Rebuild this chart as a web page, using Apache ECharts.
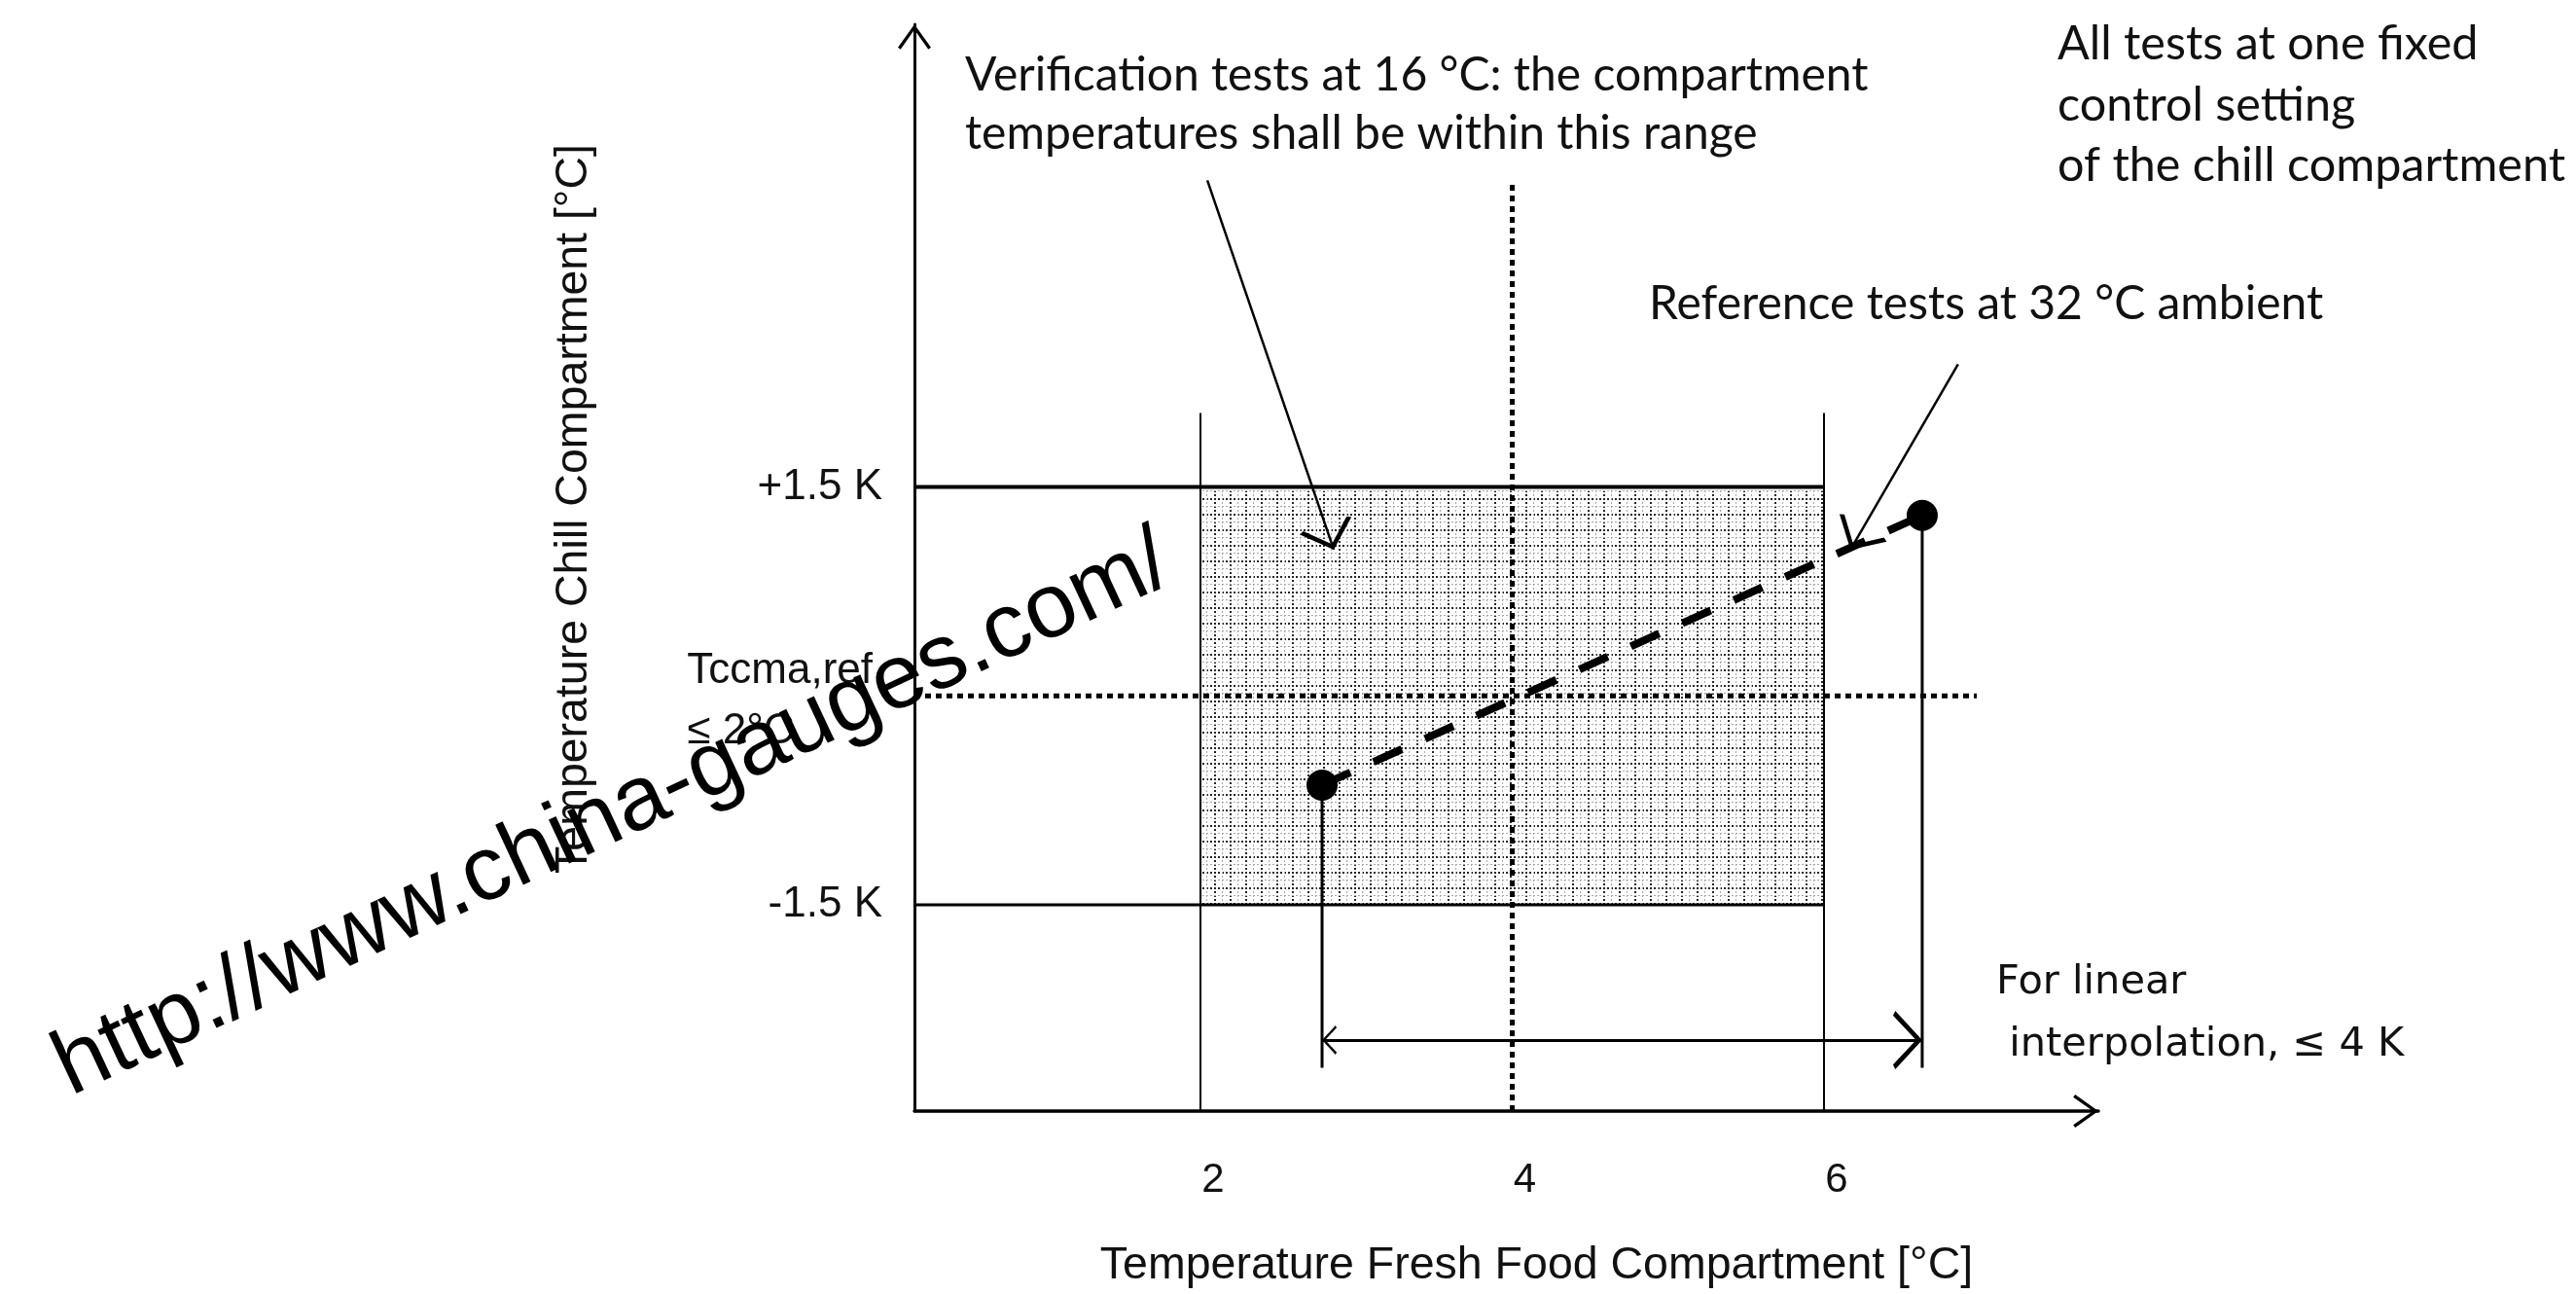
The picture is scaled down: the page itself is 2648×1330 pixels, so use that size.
<!DOCTYPE html>
<html>
<head>
<meta charset="utf-8">
<script src="https://cdn.jsdelivr.net/npm/echarts@6/dist/echarts.min.js"></script>
<style>
html, body { margin: 0; padding: 0; background: #fff; }
#chart { width: 2648px; height: 1330px; }
</style>
</head>
<body>
<div id="chart"></div>
<script>
// axes: fresh food temperature [°C] / chill temperature relative to Tccma,ref [K]
const xRange = [0.165, 7.76];
const yRange = [-2.98, 4.82];
const xTickValues = [2, 4, 6];
const yTickValues = [-1.5, 0, 1.5];
const yTickLabels = ['-1.5 K', 'Tccma,ref\n≤ 2°C', '+1.5 K'];

// tolerance band of the verification tests
const bandX = [2, 6];
const bandY = [-1.5, 1.5];
const bandTop = 2.03;

// test points: verification (16 °C) and reference (32 °C)
const pointX = [2.78, 6.63];
const pointY = [-0.64, 1.295];
const dropBottom = -2.67;
const spanY = -2.47;

// target cross
const targetX = 4;
const targetY = 0;
const crossTop = 3.68;
const crossRight = 6.98;

// callout leader arrows [from, to]
const verifArrow = [[2.044, 3.70], [2.855, 1.05]];
const refArrow = [[6.86, 2.38], [6.17, 1.05]];

const CHEVRON = 'path://M50,-76L50,-76ZM50,0L100,70L92,76L50,16L8,76L0,70Z';
const AXIS_FONT = 'Liberation Sans';
const NOTE_FONT = 'Lato';

function gridTile() {
  const c = document.createElement('canvas');
  c.width = 16; c.height = 16;
  const g = c.getContext('2d');
  g.fillStyle = '#fff';
  g.fillRect(0, 0, 16, 16);
  g.fillStyle = '#262626';
  for (let i = 0; i < 16; i += 4) {
    g.fillRect(i, 0, 2, 2);
    g.fillRect(0, i, 2, 2);
  }
  g.fillStyle = '#a8a8a8';
  for (let i = 0; i < 16; i += 4) {
    g.fillRect(i, 8, 2, 1);
    g.fillRect(8, i, 1, 2);
  }
  return c;
}

function seg(coords, width, type) {
  return {
    type: 'line',
    data: coords,
    showSymbol: false,
    symbol: 'none',
    silent: true,
    z: 3,
    lineStyle: { color: '#000', width: width, type: type || 'solid', cap: 'butt' },
  };
}

const chart = echarts.init(document.getElementById('chart'));
chart.setOption({
  animation: false,
  backgroundColor: '#fff',
  grid: { left: 940, right: 491, top: 25, bottom: 188 },
  xAxis: {
    type: 'value',
    min: xRange[0],
    max: xRange[1],
    axisLine: {
      show: true, onZero: false,
      lineStyle: { color: '#000', width: 3.5 },
      symbol: ['none', CHEVRON], symbolSize: [34, 56],
    },
    axisTick: { show: false },
    splitLine: { show: false },
    axisLabel: {
      customValues: xTickValues,
      margin: 50,
      padding: [0, 0, 0, 26],
      fontFamily: AXIS_FONT, fontSize: 42, color: '#111',
    },
    name: 'Temperature Fresh Food Compartment [°C]',
    nameLocation: 'middle',
    nameGap: 136,
    nameTextStyle: { fontFamily: AXIS_FONT, fontSize: 46.5, color: '#111', padding: [0, 0, 0, 62] },
  },
  yAxis: {
    type: 'value',
    min: yRange[0],
    max: yRange[1],
    axisLine: {
      show: true, onZero: false,
      lineStyle: { color: '#000', width: 3 },
      symbol: ['none', CHEVRON], symbolSize: [34, 56],
    },
    axisTick: { show: false },
    splitLine: { show: false },
    axisLabel: {
      customValues: yTickValues,
      margin: 33,
      fontFamily: AXIS_FONT, fontSize: 44, color: '#111',
      formatter: (v) => {
        const s = yTickLabels[yTickValues.indexOf(v)];
        if (s.indexOf('\n') < 0) return s;
        return '{s| }\n' + s.split('\n').map((l) => '{t|' + l + '}').join('\n');
      },
      rich: {
        s: { fontSize: 1, lineHeight: 12 },
        t: { align: 'left', fontFamily: AXIS_FONT, fontSize: 44, color: '#111', lineHeight: 62, padding: [0, 10, 0, 0] },
      },
    },
    name: 'Temperature Chill Compartment [°C]',
    nameLocation: 'middle',
    nameGap: 326,
    nameTextStyle: { fontFamily: AXIS_FONT, fontSize: 46.5, color: '#111', padding: [0, 0, 0, 121] },
  },
  series: [
    {
      type: 'line',
      data: [],
      silent: true,
      z: 1,
      markArea: {
        silent: true,
        itemStyle: { color: { image: gridTile(), repeat: 'repeat' } },
        data: [[{ coord: [bandX[0], bandY[0]] }, { coord: [bandX[1], bandY[1]] }]],
      },
    },
    seg([[xRange[0], bandY[1]], [bandX[1], bandY[1]]], 4),
    seg([[xRange[0], bandY[0]], [bandX[1], bandY[0]]], 3),
    seg([[bandX[0], yRange[0]], [bandX[0], bandTop]], 2),
    seg([[bandX[1], yRange[0]], [bandX[1], bandTop]], 2),
    seg([[targetX, yRange[0]], [targetX, crossTop]], 5, [6, 5]),
    seg([[xRange[0], targetY], [crossRight, targetY]], 5, [6, 5]),
    seg([[pointX[0], pointY[0]], [pointX[1], pointY[1]]], 8, [32, 26]),
    seg([[pointX[0], pointY[0]], [pointX[0], dropBottom]], 3),
    seg([[pointX[1], pointY[1]], [pointX[1], dropBottom]], 3),
    {
      type: 'scatter',
      data: pointX.map((x, i) => [x, pointY[i]]),
      symbolSize: 32,
      itemStyle: { color: '#000', opacity: 1 },
      silent: true,
      z: 5,
    },
    {
      type: 'lines',
      coordinateSystem: 'cartesian2d',
      data: [{ coords: [[pointX[0], spanY], [pointX[1], spanY]] }],
      symbol: [CHEVRON, CHEVRON],
      symbolSize: [30, 60],
      lineStyle: { color: '#000', width: 3, opacity: 1 },
      silent: true,
      z: 4,
    },
    {
      type: 'lines',
      coordinateSystem: 'cartesian2d',
      data: [{ coords: verifArrow }, { coords: refArrow }],
      symbol: ['none', CHEVRON],
      symbolSize: [30, 56],
      lineStyle: { color: '#000', width: 2.5, opacity: 1 },
      silent: true,
      z: 4,
    },
  ],
  graphic: [
    {
      type: 'text', x: 992, y: 108, z: 50,
      style: {
        text: 'Verification tests at 16 °C: the compartment\ntemperatures shall be within this range',
        fontFamily: NOTE_FONT, fontSize: 48, lineHeight: 60, fill: '#111',
        textAlign: 'left', verticalAlign: 'middle',
      },
    },
    {
      type: 'text', x: 2115, y: 108, z: 50,
      style: {
        text: 'All tests at one fixed\ncontrol setting\nof the chill compartment',
        fontFamily: NOTE_FONT, fontSize: 48.5, lineHeight: 62.5, fill: '#111',
        textAlign: 'left', verticalAlign: 'middle',
      },
    },
    {
      type: 'text', x: 1695, y: 313, z: 50,
      style: {
        text: 'Reference tests at 32 °C ambient',
        fontFamily: NOTE_FONT, fontSize: 48, fill: '#111',
        textAlign: 'left', verticalAlign: 'middle',
      },
    },
    {
      type: 'text', x: 2052, y: 1042, z: 50,
      style: {
        text: 'For linear\n interpolation, ≤ 4 K',
        fontFamily: 'DejaVu Sans', fontSize: 41.5, lineHeight: 64, fill: '#111',
        textAlign: 'left', verticalAlign: 'middle',
      },
    },
    {
      type: 'text', x: 630, y: 838, z: 100,
      rotation: 25 * Math.PI / 180,
      style: {
        text: 'http://www.china-gauges.com/',
        fontFamily: 'Liberation Sans', fontSize: 94, fill: '#000',
        textAlign: 'center', verticalAlign: 'middle',
      },
    },
  ],
});
</script>
</body>
</html>
